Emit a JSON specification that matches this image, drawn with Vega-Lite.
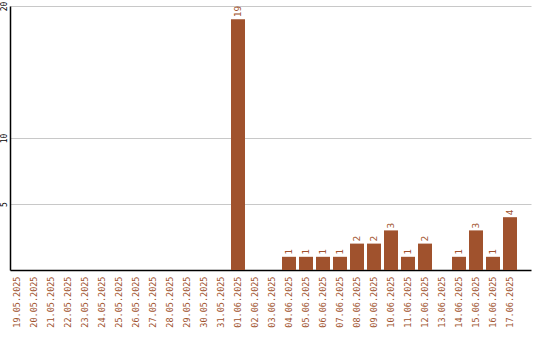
{
  "$schema": "https://vega.github.io/schema/vega-lite/v6.json",
  "width": 521,
  "height": 264,
  "autosize": {"type": "none"},
  "padding": {"left": 10, "top": 6, "right": 9, "bottom": 70},
  "background": "white",
  "config": {"view": {"stroke": null}, "font": "DejaVu Sans Mono"},
  "data": {"values": [
    {"date": "19.05.2025", "count": 0},
    {"date": "20.05.2025", "count": 0},
    {"date": "21.05.2025", "count": 0},
    {"date": "22.05.2025", "count": 0},
    {"date": "23.05.2025", "count": 0},
    {"date": "24.05.2025", "count": 0},
    {"date": "25.05.2025", "count": 0},
    {"date": "26.05.2025", "count": 0},
    {"date": "27.05.2025", "count": 0},
    {"date": "28.05.2025", "count": 0},
    {"date": "29.05.2025", "count": 0},
    {"date": "30.05.2025", "count": 0},
    {"date": "31.05.2025", "count": 0},
    {"date": "01.06.2025", "count": 19},
    {"date": "02.06.2025", "count": 0},
    {"date": "03.06.2025", "count": 0},
    {"date": "04.06.2025", "count": 1},
    {"date": "05.06.2025", "count": 1},
    {"date": "06.06.2025", "count": 1},
    {"date": "07.06.2025", "count": 1},
    {"date": "08.06.2025", "count": 2},
    {"date": "09.06.2025", "count": 2},
    {"date": "10.06.2025", "count": 3},
    {"date": "11.06.2025", "count": 1},
    {"date": "12.06.2025", "count": 2},
    {"date": "13.06.2025", "count": 0},
    {"date": "14.06.2025", "count": 1},
    {"date": "15.06.2025", "count": 3},
    {"date": "16.06.2025", "count": 1},
    {"date": "17.06.2025", "count": 4}
  ]},
  "encoding": {
    "x": {
      "field": "date", "type": "nominal", "sort": null,
      "scale": {"paddingInner": 0.1765, "paddingOuter": 0.4118, "align": 0},
      "axis": {
        "title": null, "labelAngle": -90, "labelAlign": "right", "labelBaseline": "middle",
        "labelColor": "#A0522D", "labelFontSize": 8.5, "labelFont": "DejaVu Sans Mono",
        "ticks": false, "labelPadding": 6, "domainColor": "#000000", "domainWidth": 1.5,
        "labelOverlap": false
      }
    },
    "y": {
      "field": "count", "type": "quantitative",
      "scale": {"domain": [0, 20], "nice": false},
      "axis": {
        "title": null, "values": [5, 10, 20], "labelAngle": -90, "labelAlign": "center",
        "labelBaseline": "bottom", "labelFontSize": 8, "labelFont": "DejaVu Sans Mono",
        "labelColor": "#000000", "ticks": false, "labelPadding": 2,
        "domainColor": "#000000", "domainWidth": 1.5,
        "grid": true, "gridColor": "#c8c8c8", "gridWidth": 1, "labelOverlap": false
      }
    }
  },
  "layer": [
    {"mark": {"type": "bar", "color": "#A0522D"}},
    {
      "transform": [{"filter": "datum.count > 0"}],
      "mark": {"type": "text", "angle": -90, "align": "left", "baseline": "middle", "dx": 2,
               "color": "#A0522D", "fontSize": 9.5, "font": "DejaVu Sans Mono"},
      "encoding": {"text": {"field": "count", "type": "quantitative"}}
    }
  ]
}
